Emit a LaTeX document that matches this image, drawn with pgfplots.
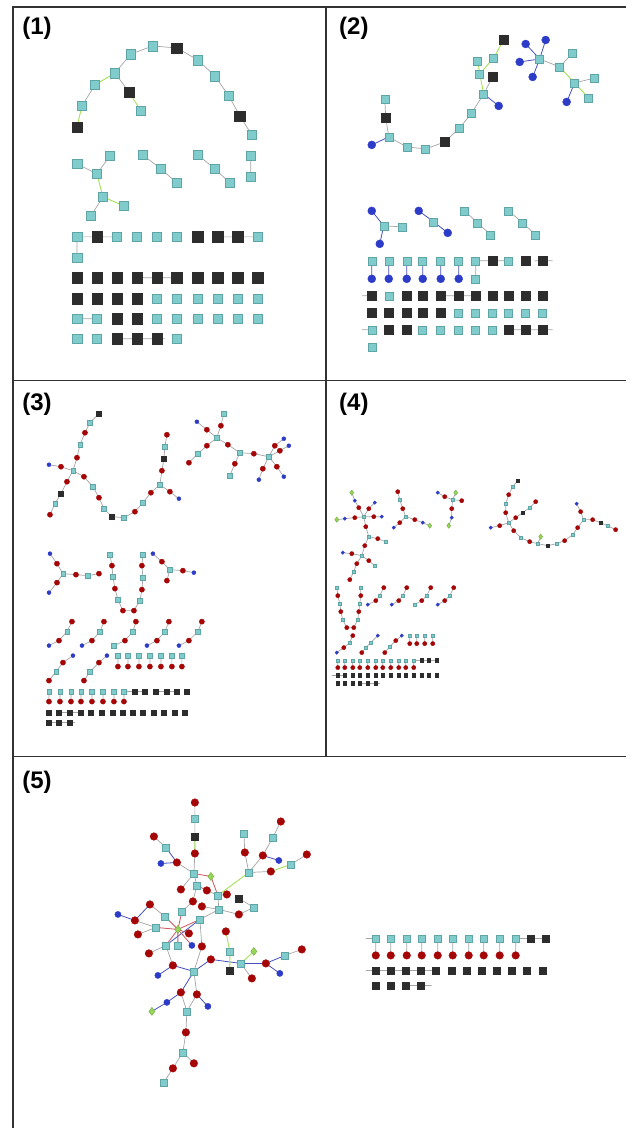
\documentclass[border=0pt]{standalone}
\usepackage{pgfplots}
\pgfplotsset{compat=1.18}
\usepackage{fontspec}
\setmainfont{Liberation Sans}
\definecolor{tealF}{RGB}{128,204,204}
\definecolor{tealD}{RGB}{95,165,165}
\definecolor{blk}{RGB}{45,45,45}
\definecolor{redF}{RGB}{165,5,5}
\definecolor{bluF}{RGB}{45,60,200}
\definecolor{grnF}{RGB}{150,215,90}
\definecolor{grnD}{RGB}{110,170,60}
\definecolor{edgeG}{RGB}{165,165,165}
\definecolor{edgeB}{RGB}{70,80,190}
\definecolor{edgeR}{RGB}{205,85,95}
\definecolor{edgeN}{RGB}{165,225,85}
\definecolor{frame}{RGB}{50,50,50}
\pgfplotsset{
 nodeT/.style={only marks, mark=square*, mark options={fill=tealF, draw=tealD, line width=0.25pt, rounded corners=0.4pt}},
 nodeK/.style={only marks, mark=square*, mark options={fill=blk, draw=blk, line width=0.2pt}},
 nodeR/.style={only marks, mark=*, mark options={fill=redF, draw=redF, line width=0.2pt}},
 nodeB/.style={only marks, mark=*, mark options={fill=bluF, draw=bluF, line width=0.2pt}},
 nodeG/.style={only marks, mark=diamond*, mark options={fill=grnF, draw=grnD, line width=0.2pt}},
 eGray/.style={no markers, draw=edgeG, line width=0.35pt},
 eBlue/.style={no markers, draw=edgeB, line width=0.4pt},
 eRed/.style={no markers, draw=edgeR, line width=0.4pt},
 eGrn/.style={no markers, draw=edgeN, line width=0.45pt},
}
\begin{document}
\begin{tikzpicture}
\begin{axis}[scale only axis, width=313pt, height=564.5pt,
  xmin=0, xmax=626, ymin=0, ymax=1129, y dir=reverse,
  axis lines=none, clip=false, unbounded coords=jump]

% bounding box of the whole figure
\path (axis cs:0,0) rectangle (axis cs:626,1129);
% ---------------- frame ----------------
\draw[frame, line width=0.7pt] (axis cs:13,1129) -- (axis cs:13,7) -- (axis cs:626,7);
\draw[frame, line width=0.7pt] (axis cs:13,381) -- (axis cs:626,381);
\draw[frame, line width=0.7pt] (axis cs:13,757) -- (axis cs:626,757);
\draw[frame, line width=0.7pt] (axis cs:326,7) -- (axis cs:326,757);
\node[anchor=base west, font=\bfseries\fontsize{12}{12}\selectfont, inner sep=0pt] at (axis cs:22,35) {(1)};
\node[anchor=base west, font=\bfseries\fontsize{12}{12}\selectfont, inner sep=0pt] at (axis cs:339,35) {(2)};
\node[anchor=base west, font=\bfseries\fontsize{12}{12}\selectfont, inner sep=0pt] at (axis cs:22,411) {(3)};
\node[anchor=base west, font=\bfseries\fontsize{12}{12}\selectfont, inner sep=0pt] at (axis cs:339,411) {(4)};
\node[anchor=base west, font=\bfseries\fontsize{12}{12}\selectfont, inner sep=0pt] at (axis cs:22,789) {(5)};

% ================= EDGES =================
% panel 1
\addplot[eGray] coordinates {(153,46)(177,48)(198,60)(215,76)(229,96)(240,116)(252,135)(nan,nan)
(153,46)(131,54)(115,73)(129,92)(nan,nan)(95,85)(82,106)(nan,nan)
(110,156)(97,174)(nan,nan)(77,164)(97,174)(nan,nan)(103,197)(91,216)(nan,nan)
(143,155)(161,169)(177,183)(nan,nan)(198,155)(215,169)(230,183)(nan,nan)(251,156)(251,177)(nan,nan)
(77,258)(77,237)(97,237)(117,237)(nan,nan)(218,237)(238,237)(258,237)(nan,nan)
(137,278)(157,278)(177,278)(nan,nan)(77,319)(97,319)(nan,nan)(117,339)(137,339)(157,339)(165,339)};
\addplot[eGrn] coordinates {(115,73)(95,85)(nan,nan)(82,106)(77,127)(nan,nan)(129,92)(141,111)(nan,nan)(97,174)(103,197)(124,206)};
% panel 2
\addplot[eGray] coordinates {(540,59)(560,67)(nan,nan)(573,53)(560,67)(nan,nan)(575,83)(595,78)(nan,nan)
(493,77)(484,94)(472,113)(460,128)(445,142)(426,149)(407,147)(389,137)(386,118)(385,99)(nan,nan)
(384,226)(402,227)(nan,nan)(465,211)(478,223)(491,235)(nan,nan)(509,211)(523,223)(536,235)(nan,nan)
(476,279)(476,261)(493,261)(509,261)(nan,nan)(535,261)(553,261)(nan,nan)
(362,296)(372,296)(nan,nan)(441,296)(459,296)(476,296)(nan,nan)
(362,330)(372,330)(nan,nan)(509,330)(526,330)(543,330)(553,330)};
\addplot[eBlue] coordinates {(540,59)(526,44)(nan,nan)(540,59)(546,40)(nan,nan)(540,59)(520,62)(nan,nan)(540,59)(533,77)(nan,nan)
(575,83)(567,102)(nan,nan)(484,94)(499,106)(nan,nan)(389,137)(372,145)(nan,nan)
(372,211)(384,226)(380,244)(nan,nan)(419,211)(434,222)(448,233)(nan,nan)
(372,261)(372,279)(nan,nan)(389,261)(389,279)(nan,nan)(407,261)(407,279)(nan,nan)(423,261)(423,279)(nan,nan)(441,261)(441,279)(nan,nan)(459,261)(459,279)};
\addplot[eGrn] coordinates {(560,67)(575,83)(589,98)(nan,nan)(504,40)(494,58)(480,74)(484,94)(nan,nan)(478,61)(480,74)};
% panel 3
\addplot[eGray] coordinates {(99,414)(90,423)(85,433)(80,445)(77,458)(73,471)(67,482)(61,494)(55,504)(50,515)(nan,nan)
(49,465)(61,467)(73,471)(nan,nan)
(73,471)(84,477)(93,487)(99,498)(104,509)(112,517)(124,518)(135,512)(143,503)(151,493)(160,485)(162,471)(164,459)(165,447)(167,435)(nan,nan)
(160,485)(170,492)(179,499)(nan,nan)
(224,414)(221,426)(217,438)(nan,nan)(197,422)(207,430)(217,438)(207,446)(198,454)(189,463)(nan,nan)
(217,438)(228,445)(240,453)(235,464)(230,476)(nan,nan)(240,453)(254,454)(269,457)(nan,nan)
(269,457)(275,446)(284,439)(nan,nan)(269,457)(280,451)(289,446)(nan,nan)(269,457)(263,469)(259,480)(nan,nan)(269,457)(277,467)(284,477)(nan,nan)
(50,554)(57,564)(63,574)(57,583)(49,593)(nan,nan)(63,574)(76,575)(88,576)(99,574)(nan,nan)
(110,555)(112,566)(113,577)(115,589)(118,600)(123,611)(134,611)(140,601)(142,590)(143,578)(142,566)(143,555)(nan,nan)
(153,554)(162,562)(170,570)(183,571)(194,573)(nan,nan)(170,570)(167,581)(nan,nan)
(49,646)(59,641)(67,632)(72,622)(nan,nan)(82,646)(92,641)(100,632)(104,622)(nan,nan)
(114,646)(125,641)(133,632)(136,622)(nan,nan)(147,646)(157,641)(165,632)(169,622)(nan,nan)
(179,646)(189,641)(198,632)(202,622)(nan,nan)
(49,681)(56,672)(63,663)(73,656)(nan,nan)(84,681)(90,672)(99,663)(107,656)(nan,nan)
(118,656)(118,667)(nan,nan)(128,656)(128,667)(nan,nan)(139,656)(139,667)(nan,nan)(150,656)(150,667)(nan,nan)(161,656)(161,667)(nan,nan)(172,656)(172,667)(nan,nan)(182,656)(182,667)(nan,nan)
(49,692)(49,702)(nan,nan)(60,692)(60,702)(nan,nan)(71,692)(71,702)(nan,nan)(81,692)(81,702)(nan,nan)(92,692)(92,702)(nan,nan)(103,692)(103,702)(nan,nan)(114,692)(114,702)(nan,nan)(124,692)(124,702)(nan,nan)
(124,692)(145,692)(nan,nan)(156,692)(177,692)(nan,nan)(59,713)(81,713)(nan,nan)(49,723)(75,723)};
% panel 4
\addplot[eGray] coordinates {(352,493)(355,501)(359,508)(364,517)(nan,nan)(375,503)(369,509)(364,517)(nan,nan)
(364,517)(374,517)(382,517)(nan,nan)(364,517)(355,518)(345,519)(337,520)(nan,nan)
(364,517)(366,527)(369,537)(378,539)(386,542)(nan,nan)(369,537)(365,546)(362,556)(352,554)(343,553)(nan,nan)
(362,556)(369,561)(375,566)(nan,nan)(362,556)(357,564)(354,572)(350,580)(nan,nan)
(398,492)(400,500)(403,509)(406,517)(400,523)(394,528)(nan,nan)(406,517)(415,520)(423,523)(430,526)(nan,nan)
(438,493)(445,497)(453,500)(456,493)(nan,nan)(453,500)(462,501)(nan,nan)(453,500)(452,509)(452,518)(449,526)(nan,nan)
(518,481)(513,487)(509,495)(506,504)(506,513)(509,523)(500,526)(491,528)(nan,nan)
(536,502)(530,508)(523,513)(516,518)(509,523)(nan,nan)
(509,523)(514,531)(521,538)(530,542)(538,544)(548,546)(557,544)(565,541)(573,535)(578,528)(584,520)(581,512)(577,504)(nan,nan)
(538,544)(541,537)(nan,nan)(584,520)(593,520)(601,523)(608,526)(616,530)(nan,nan)
(337,588)(338,596)(340,604)(341,612)(343,620)(347,628)(354,628)(358,620)(359,612)(360,604)(361,596)(361,588)(nan,nan)
(368,605)(376,601)(380,596)(384,588)(nan,nan)(392,605)(399,601)(403,596)(407,588)(nan,nan)
(415,605)(422,601)(427,596)(431,588)(nan,nan)(438,605)(445,601)(450,596)(454,588)(nan,nan)
(337,653)(344,648)(350,643)(353,636)(nan,nan)(362,653)(366,648)(371,643)(378,636)(nan,nan)(385,653)(390,647)(396,641)(402,636)(nan,nan)
(410,636)(410,644)(nan,nan)(417,636)(417,644)(nan,nan)(425,636)(425,644)(nan,nan)(433,636)(433,644)(nan,nan)
(338,661)(338,668)(nan,nan)(345,661)(345,668)(nan,nan)(353,661)(353,668)(nan,nan)(360,661)(360,668)(nan,nan)(368,661)(368,668)(nan,nan)(376,661)(376,668)(nan,nan)(383,661)(383,668)(nan,nan)(391,661)(391,668)(nan,nan)(399,661)(399,668)(nan,nan)(406,661)(406,668)(nan,nan)(414,661)(414,668)(nan,nan)
(414,661)(437,661)(nan,nan)(332,676)(345,676)(nan,nan)(360,684)(380,684)};
% panel 5
\addplot[eGray] coordinates {(195,803)(195,819)(195,837)(195,854)(194,874)(nan,nan)(154,837)(166,848)(nan,nan)(177,863)(194,874)(nan,nan)
(194,874)(197,886)(nan,nan)(194,874)(181,890)(nan,nan)(218,896)(227,895)(nan,nan)(218,896)(207,891)(nan,nan)(218,896)(219,910)(nan,nan)
(244,834)(245,853)(249,873)(nan,nan)(281,822)(273,838)(263,856)(249,873)(nan,nan)(249,873)(271,872)(nan,nan)(291,865)(307,855)(nan,nan)
(239,899)(254,908)(239,915)(219,910)(202,907)(nan,nan)(219,910)(200,920)(nan,nan)
(197,886)(193,902)(182,912)(nan,nan)(150,905)(165,917)(nan,nan)(135,921)(156,928)(nan,nan)(138,935)(156,928)(nan,nan)
(166,946)(149,954)(nan,nan)(200,920)(202,947)(194,972)(nan,nan)(241,964)(252,979)(nan,nan)(285,956)(302,950)(nan,nan)
(173,966)(166,946)(nan,nan)(194,972)(197,995)(nan,nan)(181,993)(187,1012)(197,995)(nan,nan)
(187,1012)(186,1033)(183,1053)(194,1064)(nan,nan)(183,1053)(173,1069)(164,1083)(nan,nan)
(366,939)(376,939)(nan,nan)(376,939)(376,956)(nan,nan)(391,939)(391,956)(nan,nan)(407,939)(407,956)(nan,nan)(422,939)(422,956)(nan,nan)(438,939)(438,956)(nan,nan)(453,939)(453,956)(nan,nan)(469,939)(469,956)(nan,nan)(484,939)(484,956)(nan,nan)(500,939)(500,956)(nan,nan)(516,939)(516,956)(nan,nan)
(516,939)(546,939)(nan,nan)(366,971)(436,971)(nan,nan)(406,986)(432,986)};
\addplot[eBlue] coordinates {(166,848)(177,863)(nan,nan)(161,864)(177,863)(nan,nan)(118,915)(135,921)(nan,nan)
(158,976)(173,966)(194,972)(nan,nan)(194,972)(211,960)(241,964)(266,964)(285,956)(nan,nan)(280,974)(266,964)(nan,nan)
(194,972)(181,993)(nan,nan)(167,1003)(181,993)(nan,nan)(208,1007)(197,995)(nan,nan)(152,1012)(167,1003)(nan,nan)
(279,861)(263,856)(nan,nan)(166,946)(200,920)(nan,nan)(150,905)(135,921)};
\addplot[eRed] coordinates {(178,930)(182,912)(nan,nan)(178,930)(165,917)(nan,nan)(178,930)(156,928)(nan,nan)(178,930)(166,946)(nan,nan)
(178,930)(178,946)(nan,nan)(178,930)(189,934)(nan,nan)(178,930)(192,946)(nan,nan)(178,930)(200,920)(nan,nan)
(194,874)(211,877)(218,896)(nan,nan)(197,886)(207,891)};
\addplot[eGrn] coordinates {(249,873)(218,896)(nan,nan)(230,952)(230,971)(nan,nan)(241,964)(254,952)(nan,nan)(291,865)(271,872)(nan,nan)(195,837)(195,854)(nan,nan)(226,932)(230,952)};

% ================= NODES =================
% panel 1
\addplot[nodeT, mark size=2.4pt] coordinates {(153,46)(131,54)(198,60)(115,73)(95,85)(215,76)(229,96)(141,111)(82,106)(252,135)
(110,156)(77,164)(97,174)(103,197)(124,206)(91,216)
(143,155)(161,169)(177,183)(198,155)(215,169)(230,183)(251,156)(251,177)
(77,237)(117,237)(137,237)(157,237)(177,237)(258,237)(77,258)
(157,299)(177,299)(198,299)(218,299)(238,299)(258,299)
(77,319)(97,319)(157,319)(177,319)(198,319)(218,319)(238,319)(258,319)
(77,339)(97,339)(177,339)};
\addplot[nodeK, mark size=2.6pt] coordinates {(177,48)(129,92)(240,116)(77,127)
(97,237)(198,237)(218,237)(238,237)
(77,278)(97,278)(117,278)(137,278)(157,278)(177,278)(198,278)(218,278)(238,278)(258,278)
(77,299)(97,299)(117,299)(137,299)
(117,319)(137,319)
(117,339)(137,339)(157,339)};
% panel 2
\addplot[nodeT, mark size=2.0pt] coordinates {(540,59)(573,53)(560,67)(575,83)(595,78)(589,98)
(494,58)(478,61)(480,74)(484,94)(472,113)(460,128)(426,149)(407,147)(389,137)(385,99)
(384,226)(402,227)(434,222)(465,211)(478,223)(491,235)(509,211)(523,223)(536,235)
(372,261)(389,261)(407,261)(423,261)(441,261)(459,261)(476,261)(509,261)(476,279)
(389,296)
(459,313)(476,313)(493,313)(509,313)(526,313)(543,313)
(372,330)(423,330)(441,330)(459,330)(476,330)(493,330)
(372,347)};
\addplot[nodeK, mark size=2.2pt] coordinates {(504,40)(493,77)(445,142)(386,118)
(493,261)(526,261)(543,261)
(372,296)(407,296)(423,296)(441,296)(459,296)(476,296)(493,296)(509,296)(526,296)(543,296)
(372,313)(389,313)(407,313)(423,313)(441,313)
(389,330)(407,330)(509,330)(526,330)(543,330)};
\addplot[nodeB, mark size=2.0pt] coordinates {(526,44)(546,40)(520,62)(533,77)(567,102)(499,106)(372,145)
(372,211)(380,244)(419,211)(448,233)
(372,279)(389,279)(407,279)(423,279)(441,279)(459,279)};
% panel 3
\addplot[nodeT, mark size=1.1pt] coordinates {(90,423)(80,445)(73,471)(55,504)(93,487)(104,509)(124,518)(143,503)(160,485)(165,447)
(224,414)(217,438)(198,454)(240,453)(230,476)(269,457)
(63,574)(88,576)(110,555)(113,577)(118,600)(140,601)(143,578)(143,555)(170,570)
(67,632)(100,632)(114,646)(133,632)(165,632)(198,632)(56,672)(90,672)
(118,656)(128,656)(139,656)(150,656)(161,656)(172,656)(182,656)
(49,692)(60,692)(71,692)(81,692)(92,692)(103,692)(114,692)(124,692)};
\addplot[nodeR, mark size=1.3pt] coordinates {(85,433)(77,458)(61,467)(67,482)(50,515)(84,477)(99,498)(135,512)(151,493)(170,492)(162,471)(167,435)
(221,426)(207,430)(207,446)(189,463)(228,445)(235,464)(254,454)(275,446)(280,451)(263,469)(277,467)
(57,564)(57,583)(76,575)(99,574)(112,566)(115,589)(123,611)(134,611)(142,590)(142,566)(162,562)(183,571)(167,581)
(59,641)(72,622)(92,641)(104,622)(125,641)(136,622)(157,641)(169,622)(189,641)(202,622)
(49,681)(63,663)(84,681)(99,663)
(118,667)(128,667)(139,667)(150,667)(161,667)(172,667)(182,667)
(49,702)(60,702)(71,702)(81,702)(92,702)(103,702)(114,702)(124,702)};
\addplot[nodeB, mark size=1.0pt] coordinates {(49,465)(179,499)(197,422)(284,439)(289,446)(259,480)(284,477)(50,554)(49,593)(153,554)(194,573)
(49,646)(82,646)(147,646)(179,646)(73,656)(107,656)};
\addplot[nodeK, mark size=1.2pt] coordinates {(99,414)(61,494)(112,517)(164,459)
(135,692)(145,692)(156,692)(167,692)(177,692)(187,692)
(49,713)(59,713)(70,713)(81,713)(91,713)(102,713)(113,713)(123,713)(133,713)(143,713)(154,713)(164,713)(175,713)(185,713)
(49,723)(59,723)(70,723)};
% panel 4
\addplot[nodeT, mark size=0.9pt] coordinates {(364,517)(369,537)(386,542)(362,556)(375,566)(354,572)(400,500)(406,517)(453,500)
(513,487)(506,504)(509,523)(530,508)(521,538)(538,544)(557,544)(573,535)(584,520)(608,526)
(337,588)(340,604)(343,620)(358,620)(360,604)(361,588)
(380,596)(403,596)(415,605)(427,596)(450,596)(350,643)(366,648)(371,643)(390,647)
(410,636)(417,636)(425,636)(433,636)
(338,661)(345,661)(353,661)(360,661)(368,661)(376,661)(383,661)(391,661)(399,661)(406,661)(414,661)};
\addplot[nodeR, mark size=1.05pt] coordinates {(359,508)(369,509)(374,517)(355,518)(366,527)(378,539)(365,546)(352,554)(369,561)(357,564)(350,580)
(398,492)(403,509)(400,523)(415,520)(445,497)(462,501)(452,509)
(509,495)(506,513)(500,526)(536,502)(516,518)(514,531)(530,542)(565,541)(578,528)(581,512)(593,520)(616,530)
(338,596)(341,612)(347,628)(354,628)(359,612)(361,596)
(376,601)(384,588)(399,601)(407,588)(422,601)(431,588)(445,601)(454,588)
(344,648)(353,636)(362,653)(385,653)(396,641)
(410,644)(417,644)(425,644)(433,644)
(338,668)(345,668)(353,668)(360,668)(368,668)(376,668)(383,668)(391,668)(399,668)(406,668)(414,668)};
\addplot[nodeB, mark size=0.85pt] coordinates {(355,501)(375,503)(382,517)(345,519)(343,553)(394,528)(423,523)(438,493)(452,518)(491,528)(577,504)
(368,605)(392,605)(438,605)(337,653)(378,636)(402,636)};
\addplot[nodeG, mark size=1.3pt] coordinates {(352,493)(337,520)(430,526)(456,493)(449,526)(541,537)};
\addplot[nodeK, mark size=0.95pt] coordinates {(518,481)(523,513)(548,546)(601,523)
(422,661)(429,661)(437,661)
(338,676)(345,676)(353,676)(360,676)(368,676)(376,676)(383,676)(391,676)(399,676)(406,676)(414,676)(422,676)(429,676)(437,676)
(338,684)(345,684)(353,684)(360,684)(368,684)(376,684)};
% panel 5
\addplot[nodeT, mark size=1.75pt] coordinates {(195,819)(194,874)(166,848)(197,886)(218,896)(254,908)(219,910)(182,912)(165,917)(156,928)(200,920)
(166,946)(178,946)(230,952)(241,964)(285,956)(194,972)(187,1012)(183,1053)(164,1083)(244,834)(273,838)(249,873)(291,865)
(376,939)(391,939)(407,939)(422,939)(438,939)(453,939)(469,939)(484,939)(500,939)(516,939)};
\addplot[nodeR, mark size=1.9pt] coordinates {(195,803)(195,854)(154,837)(177,863)(181,890)(193,902)(207,891)(227,895)(239,915)(202,907)(150,905)
(135,921)(138,935)(189,934)(202,947)(149,954)(226,932)(211,960)(252,979)(266,964)(302,950)(173,966)(181,993)(197,995)
(186,1033)(194,1064)(173,1069)(245,853)(281,822)(263,856)(271,872)(307,855)
(376,956)(391,956)(407,956)(422,956)(438,956)(453,956)(469,956)(484,956)(500,956)(516,956)};
\addplot[nodeB, mark size=1.55pt] coordinates {(161,864)(118,915)(192,946)(280,974)(158,976)(167,1003)(208,1007)(279,861)};
\addplot[nodeG, mark size=2.0pt] coordinates {(211,877)(178,930)(254,952)(152,1012)};
\addplot[nodeK, mark size=1.85pt] coordinates {(195,837)(239,899)(230,971)(531,939)(546,939)
(376,971)(391,971)(406,971)(421,971)(436,971)(452,971)(467,971)(482,971)(497,971)(512,971)(527,971)(543,971)
(376,986)(391,986)(406,986)(421,986)};
\end{axis}
\end{tikzpicture}
\end{document}
